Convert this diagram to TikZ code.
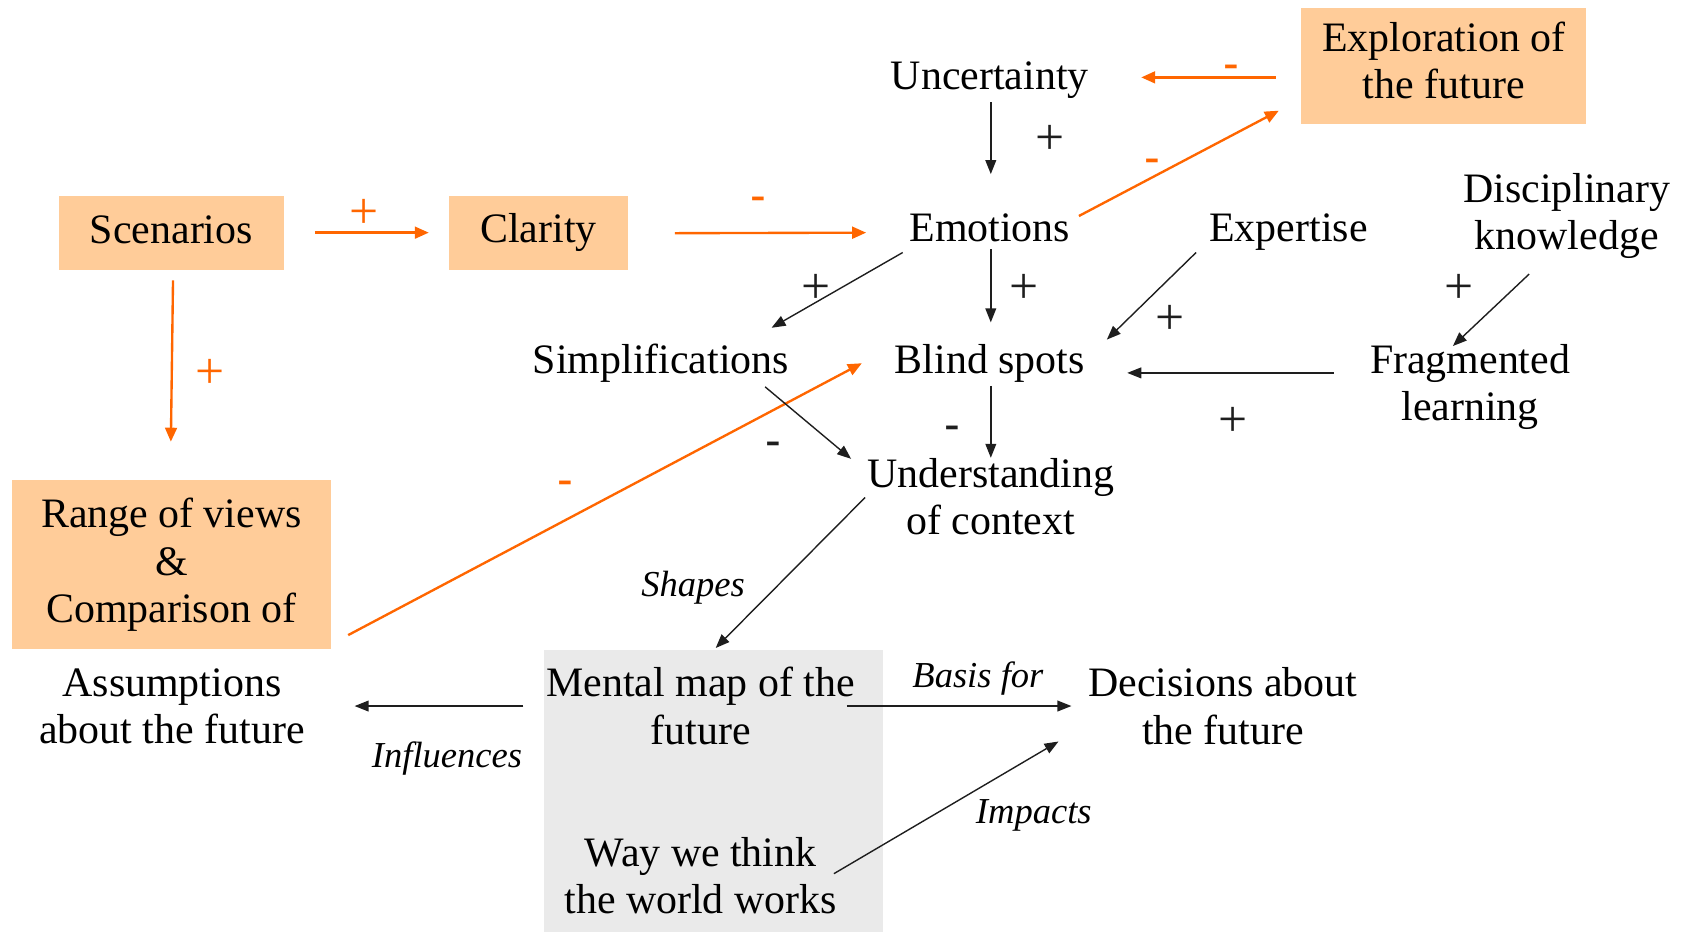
\documentclass[tikz,border=0pt]{standalone}
\usepackage{fontspec}
\setmainfont{Liberation Serif}
\newfontfamily\signfont{Liberation Sans}
\usetikzlibrary{arrows.meta,calc}
\definecolor{peach}{RGB}{255,204,153}
\definecolor{orng}{RGB}{255,102,0}
\definecolor{mapgray}{RGB}{234,234,234}
\definecolor{ink}{RGB}{30,30,30}
\begin{document}
\begin{tikzpicture}[x=1pt,y=-1pt,
  every node/.style={inner sep=0pt, align=center, font=\fontsize{39}{44}\selectfont},
  pbox/.style={fill=peach},
  lbl/.style={font=\fontsize{34}{40}\selectfont\itshape},
  plusk/.style={font=\fontsize{48}{48}\selectfont, text=ink},
  pluso/.style={font=\fontsize{48}{48}\selectfont, text=orng},
  minusk/.style={font=\signfont\fontsize{44}{44}\selectfont, text=ink},
  minuso/.style={font=\signfont\fontsize{44}{44}\selectfont, text=orng},
  oarrow/.style={draw=orng, line width=2.2pt, -{Triangle[length=13pt,width=11pt]}},
  karrow/.style={draw=ink, line width=1.3pt, -{Triangle[length=13pt,width=10pt]}}]
\useasboundingbox (0,0) rectangle (1568,867);
% background shapes
\node[fill=mapgray, minimum width=316pt, minimum height=262pt] (mapbox) at (664,736) {};
% boxes
\node[pbox, minimum width=209pt, minimum height=69pt] (scen) at (159.5,216.5) {\raisebox{3pt}[\height][\depth]{Scenarios}};
\node[pbox, minimum width=166pt, minimum height=69pt] (clar) at (501,216.5) {Clarity};
\node[pbox, minimum width=265pt, minimum height=108pt] (expl) at (1343.5,61) {\raisebox{5pt}[\height][\depth]{\parbox{265pt}{\centering Exploration of\\the future}}};
\node[pbox, minimum width=297pt, minimum height=157pt] (range) at (159.5,525.5) {Range of views\\\&\\Comparison of};
% text nodes
\node (unc) at (921,75) {Uncertainty};
\node (emo) at (921,212) {Emotions};
\node (expe) at (1199,216) {Expertise};
\node (disc) at (1458,201) {Disciplinary\\knowledge};
\node (simp) at (615,338) {Simplifications};
\node (blind) at (921,338) {Blind spots};
\node (frag) at (1368,360) {Fragmented\\learning};
\node (under) at (922,462) {Understanding\\of context};
\node (assum) at (160,657) {Assumptions\\about the future};
\node (mental) at (652,657) {Mental map of the\\future};
\node (dec) at (1138,657) {Decisions about\\the future};
\node (way) at (652,815) {Way we think\\the world works};
% italic labels
\node[lbl] (lshapes) at (645,547) {Shapes};
\node[lbl] (lbasis) at (910,631) {Basis for};
\node[lbl] (linfl) at (416,706) {Influences};
\node[lbl] (limp) at (962,759) {Impacts};
% orange connectors
\draw[oarrow] ($(scen.center)+(133.5,0)$) -- ($(clar.center)+(-102,0)$);
\draw[oarrow] ($(clar.center)+(127,0.5)$) -- ($(emo.center)+(-115,4.5)$);
\draw[oarrow] ($(expl.center)+(-156.5,11)$) -- ($(unc.center)+(141,-3)$);
\draw[oarrow] ($(emo.center)+(83,-11)$) -- ($(expl.center)+(-153.5,42)$);
\draw[oarrow] ($(scen.center)+(1.5,44.5)$) -- ($(range.center)+(-0.5,-114.5)$);
\draw[oarrow] ($(range.center)+(164.5,65.5)$) -- ($(blind.center)+(-119,0)$);
% black connectors
\draw[karrow] ($(unc.center)+(1,20)$) -- ($(emo.center)+(1,-50)$);
\draw[karrow] ($(emo.center)+(-81,23)$) -- ($(simp.center)+(103,-33)$);
\draw[karrow] ($(emo.center)+(1,20)$) -- ($(blind.center)+(1,-38)$);
\draw[karrow] ($(expe.center)+(-86,19)$) -- ($(blind.center)+(109,-22)$);
\draw[karrow] ($(disc.center)+(-35,54)$) -- ($(frag.center)+(-16,-38)$);
\draw[karrow] ($(frag.center)+(-127,-13)$) -- ($(blind.center)+(128,9)$);
\draw[karrow] ($(blind.center)+(1,21)$) -- ($(under.center)+(0,-36)$);
\draw[karrow] ($(simp.center)+(97,22)$) -- ($(under.center)+(-130,-35)$);
\draw[karrow] ($(under.center)+(-117,1)$) -- ($(mental.center)+(14,-54)$);
\draw[karrow] ($(mental.center)+(-165,0)$) -- ($(assum.center)+(170,0)$);
\draw[karrow] ($(mental.center)+(136,0)$) -- ($(dec.center)+(-141,0)$);
\draw[karrow] ($(way.center)+(124,-2)$) -- ($(dec.center)+(-153,33)$);
% signs
\node[pluso] (s1) at (339,199) {+};
\node[minuso] (s2) at (706,190) {-};
\node[minuso] (s3) at (1146,67) {-};
\node[minuso] (s4) at (1072,155) {-};
\node[pluso] (s5) at (195,348) {+};
\node[minuso] (s6) at (526,454) {-};
\node[plusk] (s7) at (977,130) {+};
\node[plusk] (s8) at (759,269) {+};
\node[plusk] (s9) at (953,269) {+};
\node[plusk] (s10) at (1089,298) {+};
\node[plusk] (s11) at (1358,269) {+};
\node[plusk] (s12) at (1147,393) {+};
\node[minusk] (s13) at (886,403) {-};
\node[minusk] (s14) at (720,418) {-};
\end{tikzpicture}
\end{document}
